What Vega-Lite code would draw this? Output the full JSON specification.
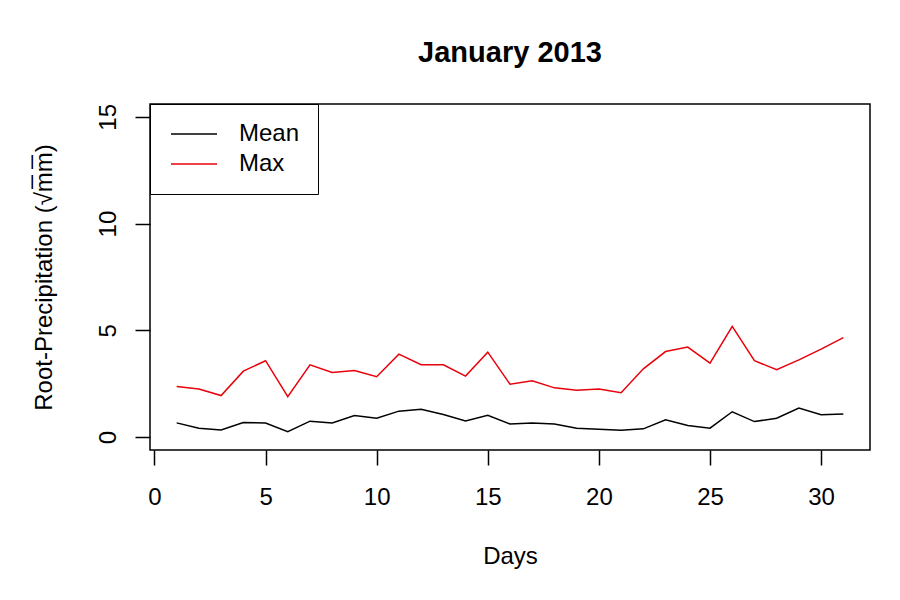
{
  "$schema": "https://vega.github.io/schema/vega-lite/v6.json",
  "width": 720,
  "height": 346,
  "autosize": "none",
  "padding": {"left": 150, "top": 104, "right": 30, "bottom": 150},
  "background": "white",
  "config": {
    "font": "Liberation Sans",
    "view": {"stroke": "black", "strokeWidth": 1.5}
  },
  "title": {
    "text": "January 2013",
    "fontSize": 29,
    "fontWeight": "bold",
    "color": "black",
    "anchor": "middle",
    "baseline": "alphabetic",
    "offset": 12
  },
  "data": {
    "values": [
      {"day": 1, "series": "Mean", "value": 0.67}, {"day": 2, "series": "Mean", "value": 0.42},
      {"day": 3, "series": "Mean", "value": 0.34}, {"day": 4, "series": "Mean", "value": 0.69},
      {"day": 5, "series": "Mean", "value": 0.66}, {"day": 6, "series": "Mean", "value": 0.26},
      {"day": 7, "series": "Mean", "value": 0.75}, {"day": 8, "series": "Mean", "value": 0.67},
      {"day": 9, "series": "Mean", "value": 1.01}, {"day": 10, "series": "Mean", "value": 0.89},
      {"day": 11, "series": "Mean", "value": 1.22}, {"day": 12, "series": "Mean", "value": 1.31},
      {"day": 13, "series": "Mean", "value": 1.06}, {"day": 14, "series": "Mean", "value": 0.76},
      {"day": 15, "series": "Mean", "value": 1.03}, {"day": 16, "series": "Mean", "value": 0.62},
      {"day": 17, "series": "Mean", "value": 0.66}, {"day": 18, "series": "Mean", "value": 0.62},
      {"day": 19, "series": "Mean", "value": 0.42}, {"day": 20, "series": "Mean", "value": 0.37},
      {"day": 21, "series": "Mean", "value": 0.33}, {"day": 22, "series": "Mean", "value": 0.39},
      {"day": 23, "series": "Mean", "value": 0.81}, {"day": 24, "series": "Mean", "value": 0.55},
      {"day": 25, "series": "Mean", "value": 0.42}, {"day": 26, "series": "Mean", "value": 1.19},
      {"day": 27, "series": "Mean", "value": 0.73}, {"day": 28, "series": "Mean", "value": 0.89},
      {"day": 29, "series": "Mean", "value": 1.36}, {"day": 30, "series": "Mean", "value": 1.05},
      {"day": 31, "series": "Mean", "value": 1.08},
      {"day": 1, "series": "Max", "value": 2.37}, {"day": 2, "series": "Max", "value": 2.26},
      {"day": 3, "series": "Max", "value": 1.95}, {"day": 4, "series": "Max", "value": 3.09},
      {"day": 5, "series": "Max", "value": 3.58}, {"day": 6, "series": "Max", "value": 1.9},
      {"day": 7, "series": "Max", "value": 3.39}, {"day": 8, "series": "Max", "value": 3.03},
      {"day": 9, "series": "Max", "value": 3.12}, {"day": 10, "series": "Max", "value": 2.83},
      {"day": 11, "series": "Max", "value": 3.89}, {"day": 12, "series": "Max", "value": 3.39},
      {"day": 13, "series": "Max", "value": 3.39}, {"day": 14, "series": "Max", "value": 2.86},
      {"day": 15, "series": "Max", "value": 3.98}, {"day": 16, "series": "Max", "value": 2.48},
      {"day": 17, "series": "Max", "value": 2.64}, {"day": 18, "series": "Max", "value": 2.31},
      {"day": 19, "series": "Max", "value": 2.2}, {"day": 20, "series": "Max", "value": 2.26},
      {"day": 21, "series": "Max", "value": 2.08}, {"day": 22, "series": "Max", "value": 3.2},
      {"day": 23, "series": "Max", "value": 4.01}, {"day": 24, "series": "Max", "value": 4.22},
      {"day": 25, "series": "Max", "value": 3.47}, {"day": 26, "series": "Max", "value": 5.19},
      {"day": 27, "series": "Max", "value": 3.58}, {"day": 28, "series": "Max", "value": 3.16},
      {"day": 29, "series": "Max", "value": 3.62}, {"day": 30, "series": "Max", "value": 4.12},
      {"day": 31, "series": "Max", "value": 4.66}
    ]
  },
  "mark": {"type": "line", "strokeWidth": 1.5},
  "encoding": {
    "x": {
      "field": "day",
      "type": "quantitative",
      "scale": {"domain": [-0.2, 32.2], "nice": false, "zero": false},
      "axis": {
        "values": [0, 5, 10, 15, 20, 25, 30],
        "domain": false,
        "grid": false,
        "tickSize": 15,
        "tickColor": "black",
        "tickWidth": 1.5,
        "labelFontSize": 24,
        "labelColor": "black",
        "labelPadding": 20,
        "labelBaseline": "top",
        "labelFlush": false,
        "title": "Days",
        "titleFontSize": 24,
        "titleFontWeight": "normal",
        "titleColor": "black",
        "titleBaseline": "alphabetic",
        "titleY": 113
      }
    },
    "y": {
      "field": "value",
      "type": "quantitative",
      "scale": {"domain": [-0.6, 15.6], "nice": false, "zero": false},
      "axis": {
        "values": [0, 5, 10, 15],
        "domain": false,
        "grid": false,
        "tickSize": 15,
        "tickColor": "black",
        "tickWidth": 1.5,
        "labelFontSize": 24,
        "labelColor": "black",
        "labelAngle": 270,
        "labelAlign": "center",
        "labelBaseline": "alphabetic",
        "labelPadding": 20,
        "labelFlush": false,
        "title": "Root-Precipitation (√m̅m̅)",
        "titleFontSize": 24,
        "titleFontWeight": "normal",
        "titleColor": "black",
        "titleAngle": 270,
        "titleAlign": "center",
        "titleBaseline": "alphabetic",
        "titleX": -99,
        "titleY": 173
      }
    },
    "color": {
      "field": "series",
      "type": "nominal",
      "scale": {"domain": ["Mean", "Max"], "range": ["black", "#e8000b"]},
      "legend": {
        "orient": "none",
        "legendX": 0,
        "legendY": 0,
        "title": null,
        "padding": 18,
        "strokeColor": "black",
        "fillColor": "white",
        "symbolType": "M-2.3,0H2.3",
        "symbolSize": 400,
        "symbolStrokeWidth": 1.5,
        "symbolOffset": 14,
        "labelFontSize": 24,
        "labelColor": "black",
        "labelOffset": 33,
        "rowPadding": 6
      }
    }
  }
}
